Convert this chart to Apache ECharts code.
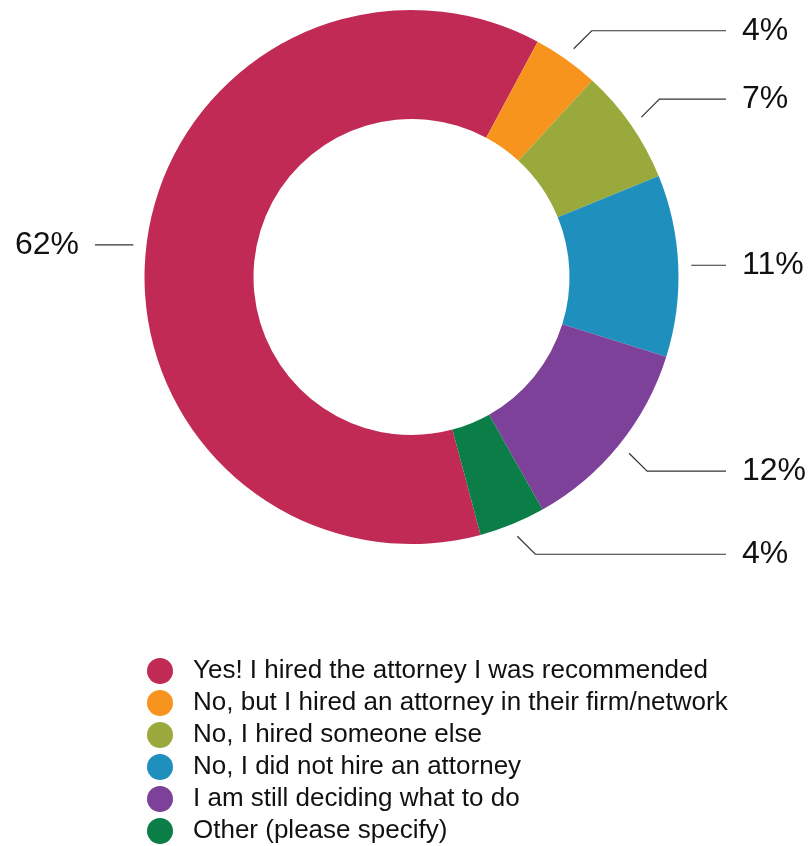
<!DOCTYPE html>
<html>
<head>
<meta charset="utf-8">
<script src="https://cdn.jsdelivr.net/npm/echarts@6/dist/echarts.min.js"></script>
<style>
  html, body { margin: 0; padding: 0; background: #fff; }
  #chart { width: 809px; height: 846px; }
</style>
</head>
<body>
<div id="chart"></div>
<script>
// Survey answers and their shares (percent)
const categories = [
  'Yes! I hired the attorney I was recommended',
  'No, but I hired an attorney in their firm/network',
  'No, I hired someone else',
  'No, I did not hire an attorney',
  'I am still deciding what to do',
  'Other (please specify)'
];
const shares = [62, 4, 7, 11, 12, 4];
const colors = ['#C22A56', '#F7941E', '#99A93B', '#1F90BE', '#7D4199', '#0B7E48'];

const FONT = '"Liberation Sans", Arial, Helvetica, sans-serif';
const CENTER = [411.5, 277];
const R_IN = 158, R_OUT = 267;
const LINE_GAP = 13;       // space between ring and start of leader line
const ELBOW = 18;          // size of the 45° elbow
const RIGHT_END = 726, LEFT_END = 95, TEXT_PAD = 16;

const data = categories.map((name, i) => ({ name, value: shares[i] }));

// Leader lines: short gap off the ring, a 45° elbow, then a horizontal run
// that ends at a common column on each side.
function layoutLabel(params) {
  const pts = params.labelLinePoints;
  if (!pts) return {};
  const dx0 = pts[0][0] - CENTER[0];
  const dy0 = pts[0][1] - CENTER[1];
  const len = Math.sqrt(dx0 * dx0 + dy0 * dy0);
  const k = (len + LINE_GAP) / len;
  const p0 = [CENTER[0] + dx0 * k, CENTER[1] + dy0 * k];
  const right = dx0 >= 0;
  const s = right ? 1 : -1;
  const tilt = Math.abs(Math.atan2(dy0, Math.abs(dx0))) * 180 / Math.PI;
  let p1;
  if (tilt < 15) {
    p1 = [p0[0], p0[1]];
  } else {
    p1 = [p0[0] + s * ELBOW, p0[1] + (dy0 > 0 ? 1 : -1) * ELBOW];
  }
  const xEnd = right ? RIGHT_END : LEFT_END;
  const p2 = [xEnd, p1[1]];
  return {
    x: xEnd + s * TEXT_PAD,
    y: p1[1],
    align: right ? 'left' : 'right',
    verticalAlign: 'middle',
    labelLinePoints: [p0, p1, p2]
  };
}

const chart = echarts.init(document.getElementById('chart'), null, { renderer: 'canvas' });

chart.setOption({
  animation: false,
  color: colors,
  legend: {
    orient: 'vertical',
    left: 147,
    top: 658,
    padding: 0,
    icon: 'circle',
    itemWidth: 26,
    itemHeight: 26,
    itemGap: 6,
    data: categories,
    textStyle: {
      fontFamily: FONT,
      fontSize: 26,
      color: '#111',
      padding: [0, 0, 0, 15]
    }
  },
  series: [
    {
      type: 'pie',
      center: CENTER,
      radius: [R_IN, R_OUT],
      startAngle: -75,
      clockwise: true,
      silent: true,
      label: {
        show: true,
        formatter: '{c}%',
        fontFamily: FONT,
        fontSize: 32,
        color: '#111',
        overflow: 'none',
        alignTo: 'none'
      },
      labelLine: {
        show: true,
        length: 20,
        length2: 20,
        lineStyle: { color: '#333', width: 1.2 }
      },
      labelLayout: layoutLabel,
      data: data
    }
  ]
});
</script>
</body>
</html>
